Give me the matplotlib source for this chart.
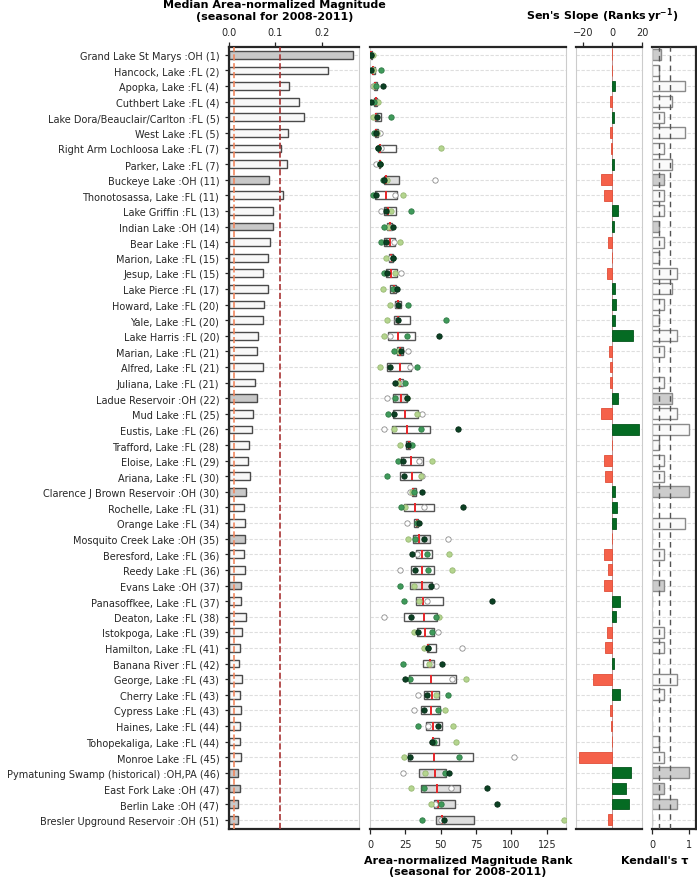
import numpy as np
import matplotlib
matplotlib.use('Agg')
import matplotlib.pyplot as plt

plt.rcParams['font.family'] = ['DejaVu Sans']
plt.rcParams['text.color'] = '#262626'
plt.rcParams['xtick.color'] = '#262626'
plt.rcParams['ytick.color'] = '#262626'

lakes = ['Grand Lake St Marys :OH (1)', 'Hancock, Lake :FL (2)', 'Apopka, Lake :FL (4)',
         'Cuthbert Lake :FL (4)', 'Lake Dora/Beauclair/Carlton :FL (5)', 'West Lake :FL (5)',
         'Right Arm Lochloosa Lake :FL (7)', 'Parker, Lake :FL (7)', 'Buckeye Lake :OH (11)',
         'Thonotosassa, Lake :FL (11)', 'Lake Griffin :FL (13)', 'Indian Lake :OH (14)',
         'Bear Lake :FL (14)', 'Marion, Lake :FL (15)', 'Jesup, Lake :FL (15)',
         'Lake Pierce :FL (17)', 'Howard, Lake :FL (20)', 'Yale, Lake :FL (20)',
         'Lake Harris :FL (20)', 'Marian, Lake :FL (21)', 'Alfred, Lake :FL (21)',
         'Juliana, Lake :FL (21)', 'Ladue Reservoir :OH (22)', 'Mud Lake :FL (25)',
         'Eustis, Lake :FL (26)', 'Trafford, Lake :FL (28)', 'Eloise, Lake :FL (29)',
         'Ariana, Lake :FL (30)', 'Clarence J Brown Reservoir :OH (30)', 'Rochelle, Lake :FL (31)',
         'Orange Lake :FL (34)', 'Mosquito Creek Lake :OH (35)', 'Beresford, Lake :FL (36)',
         'Reedy Lake :FL (36)', 'Evans Lake :OH (37)', 'Panasoffkee, Lake :FL (37)',
         'Deaton, Lake :FL (38)', 'Istokpoga, Lake :FL (39)', 'Hamilton, Lake :FL (41)',
         'Banana River :FL (42)', 'George, Lake :FL (43)', 'Cherry Lake :FL (43)',
         'Cypress Lake :FL (43)', 'Haines, Lake :FL (44)', 'Tohopekaliga, Lake :FL (44)',
         'Monroe Lake :FL (45)', 'Pymatuning Swamp (historical) :OH,PA (46)', 'East Fork Lake :OH (47)',
         'Berlin Lake :OH (47)', 'Bresler Upground Reservoir :OH (51)']

median_mag = [0.266, 0.213, 0.129, 0.150, 0.162, 0.126, 0.113, 0.125, 0.086, 0.116,
              0.094, 0.094, 0.088, 0.084, 0.074, 0.084, 0.075, 0.074, 0.062, 0.060,
              0.073, 0.055, 0.061, 0.052, 0.049, 0.044, 0.041, 0.045, 0.036, 0.033,
              0.034, 0.034, 0.032, 0.035, 0.026, 0.026, 0.036, 0.027, 0.024, 0.022,
              0.029, 0.024, 0.026, 0.024, 0.024, 0.026, 0.020, 0.024, 0.019, 0.019]

# seasonal ranks per year
rank_2008 = [1, 2, 2, 5, 4, 7, 8, 4, 46, 18, 8, 15, 17, 14, 22, 18, 19, 19, 14, 27,
             28, 23, 12, 37, 10, 28, 35, 37, 28, 38, 26, 55, 33, 21, 47, 40, 10, 48, 65, 43,
             58, 34, 31, 41, 44, 102, 23, 57, 46, 50]
rank_2009 = [2, 2, 3, 6, 2, 5, 50, 7, 12, 23, 15, 13, 21, 11, 18, 9, 14, 12, 10, 20,
             7, 20, 26, 33, 17, 21, 44, 36, 30, 25, 34, 27, 56, 58, 31, 35, 49, 31, 38, 42,
             68, 47, 53, 59, 61, 24, 39, 29, 43, 137]
rank_2010 = [1, 8, 4, 3, 15, 3, 6, 7, 9, 2, 29, 10, 8, 16, 10, 16, 27, 54, 26, 17,
             33, 25, 18, 13, 36, 30, 20, 12, 31, 22, 33, 32, 40, 41, 21, 24, 47, 44, 41, 23,
             28, 55, 48, 34, 45, 63, 53, 38, 50, 37]
rank_2011 = [1, 1, 9, 1, 5, 4, 6, 7, 10, 4, 11, 16, 11, 16, 12, 19, 20, 20, 49, 22,
             14, 18, 26, 17, 62, 27, 23, 24, 37, 66, 35, 38, 30, 32, 43, 86, 29, 34, 41, 51,
             25, 40, 38, 48, 44, 28, 56, 83, 90, 52]

sen_slope = [-0.3, 0.0, 1.8, -1.6, 1.1, -1.4, -1.1, 1.1, -7.5, -5.9,
             3.6, 0.9, -3.2, 0.0, -3.6, 1.8, 2.3, 1.8, 13.6, -2.5,
             -1.4, -1.4, 3.6, -7.9, 18.1, -0.5, -5.9, -5.2, 1.8, 3.2,
             2.7, -0.5, -5.6, -2.9, -5.9, 5.4, 2.3, -3.4, -4.7, 0.9,
             -13.3, 5.2, -1.6, -0.9, -0.5, -22.4, 12.7, 9.3, 11.3, -3.2]

kendall_tau = [0.24, 0.19, 0.91, 0.55, 0.33, 0.91, 0.33, 0.55, 0.33, 0.33,
               0.33, 0.19, 0.33, 0.19, 0.67, 0.55, 0.33, 0.19, 0.67, 0.33,
               0.0, 0.33, 0.55, 0.67, 1.0, 0.19, 0.33, 0.33, 1.0, 0.0,
               0.91, 0.0, 0.33, 0.0, 0.33, 0.0, 0.0, 0.33, 0.33, 0.0,
               0.67, 0.33, 0.0, 0.0, 0.19, 0.33, 1.0, 0.33, 0.67, 0.0]

year_colors = ['#ffffff', '#b4d58e', '#3f9a5a', '#0b4123']
year_edges = ['#8c8c8c', '#98b874', '#2f7a45', '#062a16']

is_oh = np.array([':OH' in name for name in lakes])
y = np.arange(len(lakes))
ranks = np.array([rank_2008, rank_2009, rank_2010, rank_2011], dtype=float)
q1, med, q3 = np.percentile(ranks, [25, 50, 75], axis=0)
sen = np.array(sen_slope)

W, H = 697, 879
fig = plt.figure(figsize=(W / 100, H / 100), dpi=100)


def add_panel(x0, x1, y0=48, y1=830):
    ax = fig.add_axes([x0 / W, 1 - y1 / H, (x1 - x0) / W, (y1 - y0) / H])
    ax.set_ylim(len(lakes) - 0.4, -0.5)
    ax.set_yticks(y)
    ax.yaxis.grid(True, color='#dedede', lw=0.8, ls=(0, (3, 1.5)))
    ax.set_axisbelow(True)
    for s in ax.spines.values():
        s.set_color('#cccccc')
        s.set_linewidth(0.8)
    for s in ['top', 'bottom']:
        ax.spines[s].set_color('#262626')
        ax.spines[s].set_linewidth(1.6)
    ax.tick_params(axis='x', labelsize=7, length=3.5, width=0.9)
    ax.tick_params(axis='y', length=0, labelleft=False)
    return ax


# median magnitude
ax0 = add_panel(229, 359)
ax0.barh(y, median_mag, height=0.5, color=np.where(is_oh, '#c8c8c8', '#f8f8f8'),
         edgecolor='#4a4a4a', lw=1, zorder=2)
ax0.axvline(0.01, color='#f0875f', ls='--', lw=1.2, zorder=3)
ax0.axvline(0.11, color='#a83434', ls='--', lw=1.2, zorder=3)
ax0.set_xlim(0, 0.28)
ax0.set_xticks([0.0, 0.1, 0.2])
ax0.xaxis.tick_top()
ax0.spines['left'].set_color('#262626')
ax0.spines['left'].set_linewidth(1.6)
ax0.tick_params(axis='y', length=3, width=0.9, pad=4, labelleft=True, labelsize=7.0)
ax0.set_yticklabels(lakes)
ax0.set_xlabel('Median Area-normalized Magnitude\n(seasonal for 2008-2011)',
               fontsize=8, fontweight='bold')
ax0.xaxis.set_label_position('top')
ax0.xaxis.set_label_coords(0.35, 1.036)

# ranks
ax1 = add_panel(370, 566)
ax1.barh(y, q3 - q1, left=q1, height=0.5, color=np.where(is_oh, '#dedede', '#ffffff'),
         edgecolor='#555555', lw=1, zorder=2)
ax1.vlines(med, y - 0.27, y + 0.27, color='#e8262a', lw=1.4, zorder=3)
for r, c, e in zip(ranks, year_colors, year_edges):
    ax1.scatter(r, y, s=15, color=c, edgecolors=e, linewidths=0.6, zorder=4)
ax1.set_xlim(0, 138.6)
ax1.set_xticks([0, 25, 50, 75, 100, 125])
ax1.tick_params(axis='x', top=False)
ax1.set_xlabel('Area-normalized Magnitude Rank\n(seasonal for 2008-2011)',
               fontsize=8, fontweight='bold')
ax1.xaxis.set_label_coords(0.5, -0.033)

# Sen's slope
ax2 = add_panel(576, 642)
ax2.axvline(0, color='#c09090', lw=0.7, zorder=1)
ax2.barh(y, sen, height=0.7, color=np.where(sen > 0, '#056b23', '#f5614a'),
         edgecolor=np.where(sen > 0, '#04561c', '#e04e38'), lw=0.6, zorder=2)
ax2.set_xlim(sen.min() * 1.1, sen.max() * 1.1)
ax2.set_xticks([-20, 0, 20])
ax2.xaxis.tick_top()
ax2.set_xlabel("Sen's Slope (Ranks$\\,\\mathbf{yr^{-1}}$)", fontsize=8, fontweight='bold')
ax2.xaxis.set_label_position('top')
ax2.xaxis.set_label_coords(0.39, 1.036)

# Kendall's tau
ax3 = add_panel(652, 696)
ax3.barh(y, kendall_tau, height=0.7, color=np.where(is_oh, '#cccccc', '#fafafa'),
         edgecolor='#8a8a8a', lw=1, zorder=2)
for t in [0.2, 0.5]:
    ax3.axvline(t, color='#555555', ls=(0, (4, 3)), lw=1, zorder=3)
ax3.set_xlim(0, 1.2)
ax3.set_xticks([0, 1])
ax3.spines['right'].set_color('#262626')
ax3.spines['right'].set_linewidth(1.6)
ax3.set_xlabel("Kendall's τ", fontsize=8, fontweight='bold')
ax3.xaxis.set_label_coords(0.07, -0.033)

fig.savefig('out.png', dpi=100)
